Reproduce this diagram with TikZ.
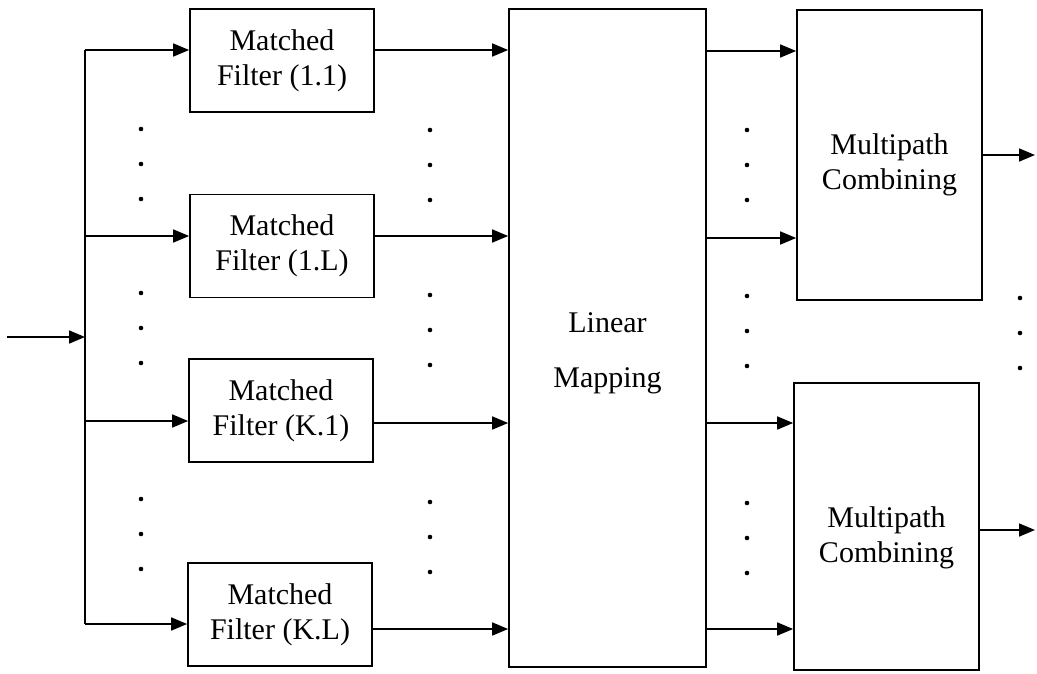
\documentclass[tikz,border=0pt]{standalone}
\usepackage{fontspec}
\setmainfont{Liberation Serif}
\usetikzlibrary{arrows.meta, positioning}
\newcommand{\dotcol}[2]{\fill (#1,#2) circle (2.3) (#1,#2+35) circle (2.3) (#1,#2+70) circle (2.3);}

\begin{document}
\begin{tikzpicture}[
  x=1pt, y=-1pt,
  every node/.style = {font=\fontsize{30}{35}\selectfont},
  mf/.style = {draw, align=center, minimum width=184, minimum height=103, inner sep=0pt},
  lm/.style = {draw, minimum width=197, minimum height=658, inner sep=0pt},
  mc/.style = {draw, minimum width=185, inner sep=0pt},
  boxtext/.style = {align=center},
  >={Triangle[length=16pt, width=13pt]}, line width=1.7pt
]
  \useasboundingbox (0,0) rectangle (1037,673);

  \node[mf] (mf11) at (282,60.5) {Matched\\Filter (1.1)};
  \node[mf] (mf1L) at (282,246) {Matched\\Filter (1.L)};
  \node[mf] (mfK1) at (281,410.5) {Matched\\Filter (K.1)};
  \node[mf] (mfKL) at (280,614.5) {Matched\\Filter (K.L)};

  \node[lm] (lm) at (607.5,338) {};
  \node[boxtext] (lmtext) at ([yshift=-15pt]lm.center) {Linear\\[20pt]Mapping};

  \node[mc, minimum height=290] (mc1) at (889.5,155) {};
  \node[boxtext] (mc1text) at ([yshift=-10pt]mc1.center) {Multipath\\Combining};
  \node[mc, minimum height=287] (mc2) at (886.5,526.5) {};
  \node[boxtext] (mc2text) at ([yshift=-11pt]mc2.center) {Multipath\\Combining};

  \coordinate (in) at (7,337);
  \coordinate (j) at (85,337);
  \coordinate (b1) at (85,50);
  \coordinate (b2) at (85,236);
  \coordinate (b3) at (85,421);
  \coordinate (b4) at (85,624);
  \coordinate (c1) at (706,51);
  \coordinate (c2) at (706,238);
  \coordinate (c3) at (706,423);
  \coordinate (c4) at (706,629);
  \coordinate (out1) at (1035,155);
  \coordinate (out2) at (1035,530);

  \draw[->] (in) -- (j);
  \draw (b1) -- (b4);
  \draw[->] (b1) -- (b1 -| mf11.west);
  \draw[->] (b2) -- (b2 -| mf1L.west);
  \draw[->] (b3) -- (b3 -| mfK1.west);
  \draw[->] (b4) -- (b4 -| mfKL.west);

  \draw[->] (mf11.east |- b1) -- (lm.west |- b1);
  \draw[->] (mf1L.east |- b2) -- (lm.west |- b2);
  \draw[->] (mfK1.east |- c3) -- (lm.west |- c3);
  \draw[->] (mfKL.east |- c4) -- (lm.west |- c4);

  \draw[->] (c1) -- (c1 -| mc1.west);
  \draw[->] (c2) -- (c2 -| mc1.west);
  \draw[->] (c3) -- (c3 -| mc2.west);
  \draw[->] (c4) -- (c4 -| mc2.west);

  \draw[->] (mc1.east) -- (out1);
  \draw[->] (mc2.east |- out2) -- (out2);

  % dots
  \dotcol{141}{129} \dotcol{141}{293} \dotcol{141}{499}
  \dotcol{430}{130} \dotcol{430}{295} \dotcol{430}{502}
  \dotcol{747}{130} \dotcol{747}{296} \dotcol{747}{503}
  \dotcol{1020}{298}
\end{tikzpicture}
\end{document}
